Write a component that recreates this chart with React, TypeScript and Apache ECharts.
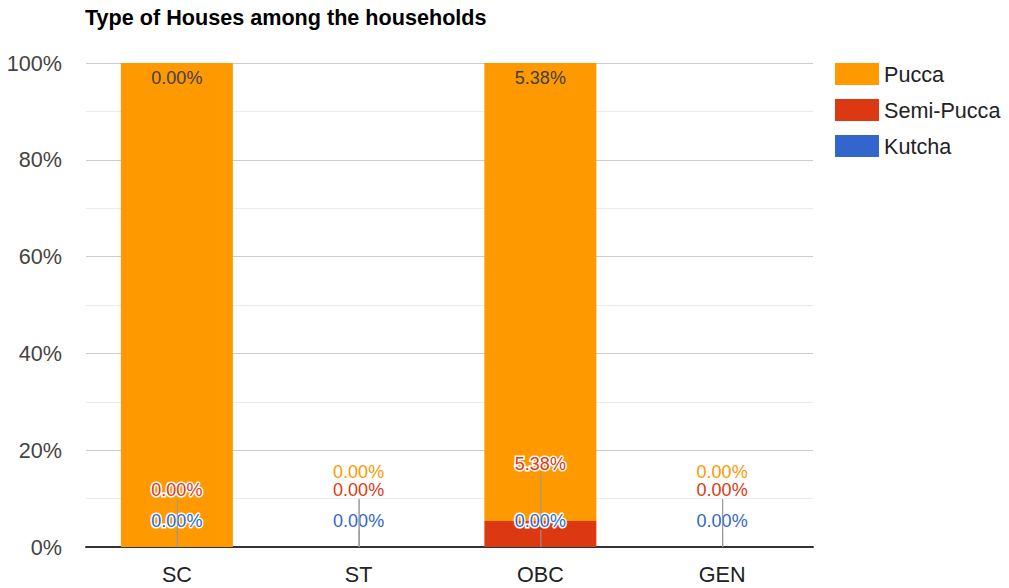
import React, { useEffect, useRef } from "react";
import * as echarts from "echarts";

const categories = ["SC", "ST", "OBC", "GEN"];
const seriesNames = ["Pucca", "Semi-Pucca", "Kutcha"];
const puccaValues = [100, 0, 94.62, 0];
const semiValues = [0, 0, 5.38, 0];
const kutchaValues = [0, 0, 0, 0];
const puccaNotes = ["0.00%", "0.00%", "5.38%", "0.00%"];
const semiNotes = ["0.00%", "0.00%", "5.38%", "0.00%"];
const kutchaNotes = ["0.00%", "0.00%", "0.00%", "0.00%"];
const colors = ["#ff9900", "#dc3912", "#3366cc"];

const FONT = "'Liberation Sans', Arial, sans-serif";

function makeNoteSeries(
  name: string, bottoms: number[], tops: number[], notes: string[], color: string,
  offset: number, stemLen: number
) {
  return {
    type: "custom",
    name,
    silent: true,
    clip: false,
    z: 5,
    data: categories.map((_, i) => [i, tops[i], bottoms[i]]),
    renderItem: (params: any, api: any) => {
      const i = params.dataIndex;
      const top = api.coord([api.value(0), api.value(1)]);
      const base = api.coord([api.value(0), api.value(2)]);
      const h = base[1] - top[1];
      const x = top[0];
      if (h > 40) {
        return {
          type: "text",
          style: {
            text: notes[i], x, y: top[1] + 15, fill: "#404040",
            fontSize: 18, fontFamily: FONT, align: "center", verticalAlign: "middle",
          },
        };
      }
      const ly = top[1] - offset;
      return {
        type: "group",
        children: [
          {
            type: "line",
            shape: { x1: x + 0.5, y1: top[1], x2: x + 0.5, y2: top[1] - stemLen },
            style: { stroke: "#999", lineWidth: 1 },
          },
          {
            type: "text",
            style: {
              text: notes[i], x, y: ly, fill: color, stroke: "#fff", lineWidth: 3,
              fontSize: 18, fontFamily: FONT, align: "center", verticalAlign: "middle",
            },
          },
        ],
      };
    },
  };
}

export default function App() {
  const ref = useRef<HTMLDivElement>(null);
  useEffect(() => {
    if (!ref.current) return;
    const chart = echarts.init(ref.current, null, { renderer: "svg" });
    const kTop = kutchaValues.map((v) => v);
    const sTop = kutchaValues.map((v, i) => v + semiValues[i]);
    const pTop = sTop.map((v, i) => v + puccaValues[i]);
    const zeros = categories.map(() => 0);
    chart.setOption({
      animation: false,
      color: colors,
      textStyle: { fontFamily: FONT },
      title: {
        text: "Type of Houses among the households",
        left: 80,
        top: 1,
        textStyle: { fontSize: 21.6, fontWeight: "bold", color: "#000", fontFamily: FONT },
      },
      legend: {
        data: seriesNames,
        orient: "vertical",
        left: 830,
        top: 58,
        itemWidth: 44,
        itemHeight: 22,
        itemGap: 14,
        icon: "rect",
        textStyle: { fontSize: 21.6, color: "#222", fontFamily: FONT },
      },
      grid: { left: 86, right: 196, top: 63, bottom: 41, containLabel: false },
      xAxis: {
        type: "category",
        data: categories,
        axisLine: { show: true, lineStyle: { color: "#333", width: 2 } },
        axisTick: { show: false },
        axisLabel: { fontSize: 21.6, color: "#222", margin: 16, fontFamily: FONT },
      },
      yAxis: {
        type: "value",
        min: 0,
        max: 100,
        interval: 20,
        axisLine: { show: false },
        axisTick: { show: false },
        axisLabel: { formatter: "{value}%", fontSize: 21.6, color: "#444", margin: 24, fontFamily: FONT },
        splitLine: { lineStyle: { color: "#cccccc", width: 1 } },
        minorTick: { show: false, splitNumber: 2 },
        minorSplitLine: { show: true, lineStyle: { color: "#ebebeb", width: 1 } },
      },
      series: [
        {
          name: "Kutcha", type: "bar", stack: "t", data: kutchaValues, barWidth: 112,
          itemStyle: { color: colors[2] },
        },
        {
          name: "Semi-Pucca", type: "bar", stack: "t", data: semiValues, barWidth: 112,
          itemStyle: { color: colors[1] },
        },
        {
          name: "Pucca", type: "bar", stack: "t", data: puccaValues, barWidth: 112,
          itemStyle: { color: colors[0] },
        },
        makeNoteSeries("note-k", zeros, kTop, kutchaNotes, colors[2], 26, 17),
        makeNoteSeries("note-s", kTop, sTop, semiNotes, colors[1], 57, 48),
        makeNoteSeries("note-p", sTop, pTop, puccaNotes, colors[0], 75, 48),
      ],
    });
    return () => chart.dispose();
  }, []);
  return <div ref={ref} style={{ width: 1009, height: 588, position: "absolute", left: 0, top: 0 }} />;
}
